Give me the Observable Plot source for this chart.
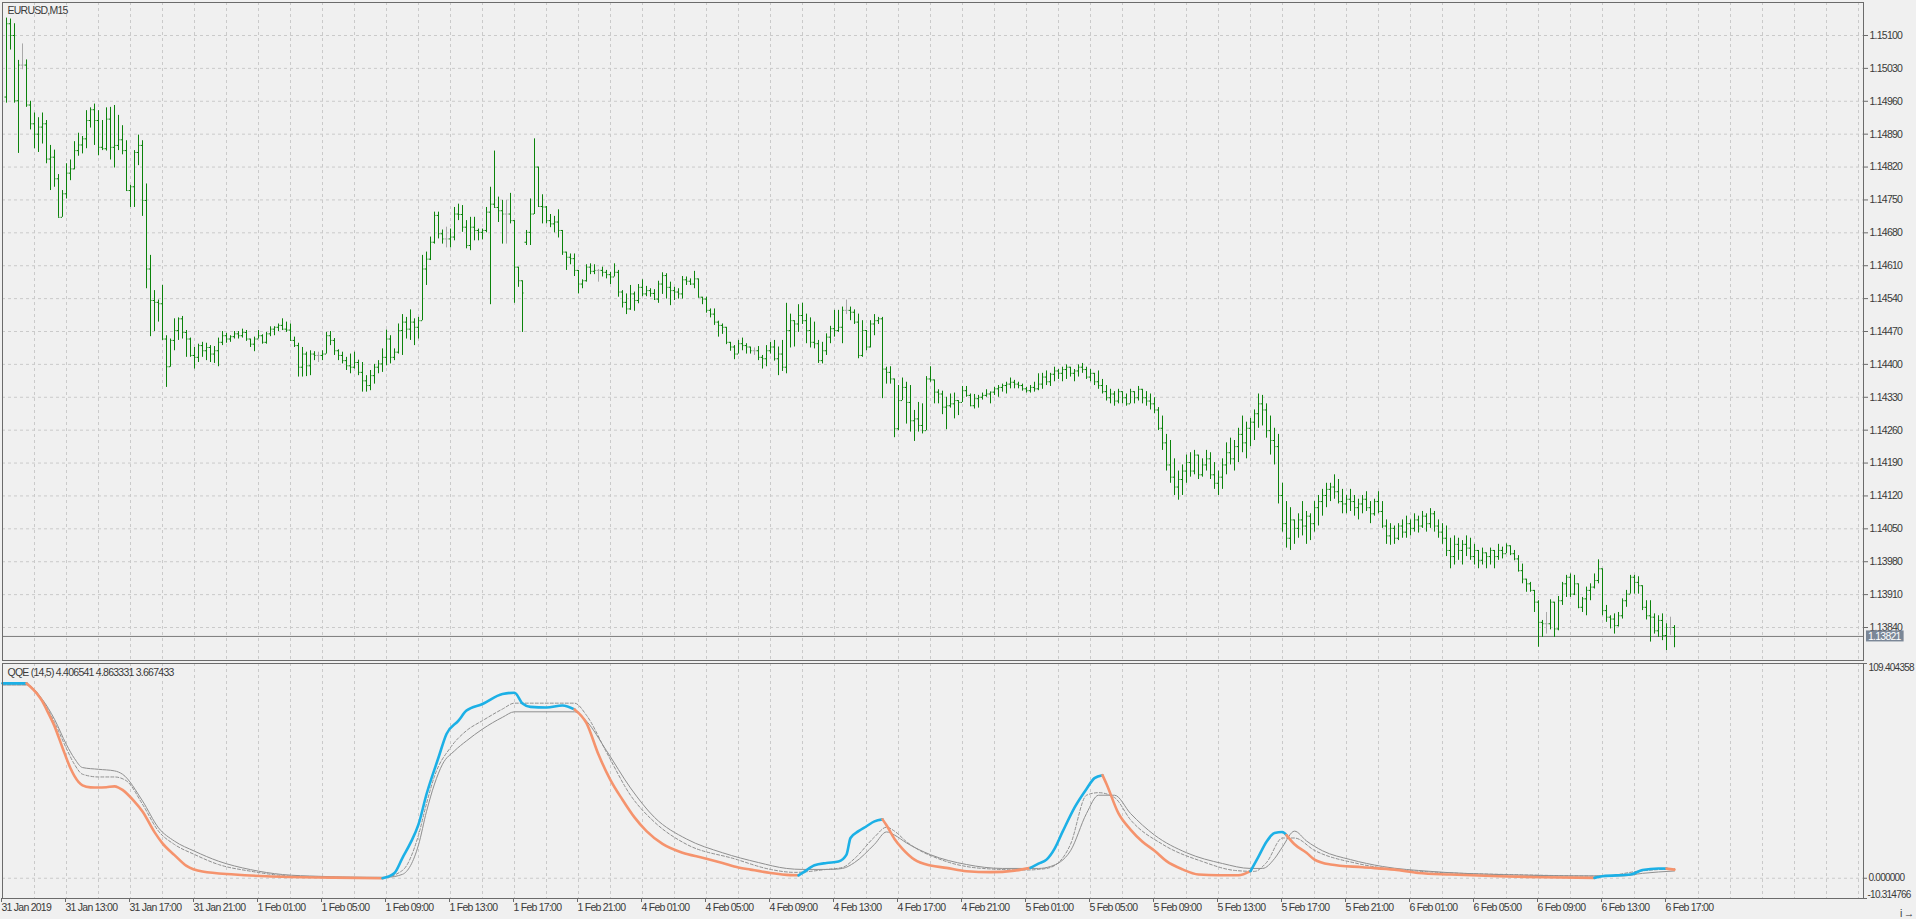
<!DOCTYPE html>
<html><head><meta charset="utf-8">
<script src="https://cdn.jsdelivr.net/npm/d3@7"></script>
<script src="https://cdn.jsdelivr.net/npm/@observablehq/plot@0.6"></script>
<style>
html,body{margin:0;padding:0;background:#f0f0f0;}
#wrap{position:relative;width:1916px;height:919px;overflow:hidden;background:#f0f0f0;}
#top{position:absolute;left:0;top:0;}
#bot{position:absolute;left:0;top:662px;}
</style></head><body><div id="wrap"><div id="top"></div><div id="bot"></div></div>
<script>
const symbolTitle = "EURUSD,M15";
const qqeTitle = "QQE (14,5) 4.406541 4.863331 3.667433";
const lastPrice = 1.13821;
const firstBar = 1;
const priceTicks = [1.13840,1.13910,1.13980,1.14050,1.14120,1.14190,1.14260,1.14330,1.14400,1.14470,1.14540,1.14610,1.14680,1.14750,1.14820,1.14890,1.14960,1.15030,1.15100];
const qqeTicks = [109.404358, 0, -10.314766];
const timeLabels = ["31 Jan 2019","31 Jan 13:00","31 Jan 17:00","31 Jan 21:00","1 Feb 01:00","1 Feb 05:00","1 Feb 09:00","1 Feb 13:00","1 Feb 17:00","1 Feb 21:00","4 Feb 01:00","4 Feb 05:00","4 Feb 09:00","4 Feb 13:00","4 Feb 17:00","4 Feb 21:00","5 Feb 01:00","5 Feb 05:00","5 Feb 09:00","5 Feb 13:00","5 Feb 17:00","5 Feb 21:00","6 Feb 01:00","6 Feb 05:00","6 Feb 09:00","6 Feb 13:00","6 Feb 17:00"];

const open = [1.14969,1.15125,1.15100,1.14961,1.15037,1.15037,1.14952,1.14912,1.14890,1.14905,
1.14912,1.14837,1.14841,1.14795,1.14713,1.14763,1.14807,1.14816,1.14855,1.14867,
1.14880,1.14919,1.14942,1.14919,1.14862,1.14859,1.14922,1.14862,1.14866,1.14878,
1.14855,1.14770,1.14778,1.14851,1.14866,1.14749,1.14603,1.14536,1.14532,1.14529,
1.14454,1.14395,1.14451,1.14472,1.14497,1.14468,1.14454,1.14419,1.14415,1.14440,
1.14429,1.14436,1.14422,1.14429,1.14447,1.14461,1.14454,1.14459,1.14465,1.14461,
1.14468,1.14454,1.14443,1.14454,1.14461,1.14447,1.14465,1.14475,1.14479,1.14483,
1.14475,1.14473,1.14451,1.14440,1.14394,1.14422,1.14397,1.14422,1.14419,1.14419,
1.14422,1.14461,1.14451,1.14429,1.14419,1.14408,1.14397,1.14394,1.14404,1.14383,
1.14365,1.14355,1.14376,1.14394,1.14401,1.14415,1.14454,1.14415,1.14426,1.14472,
1.14490,1.14475,1.14490,1.14479,1.14493,1.14603,1.14624,1.14660,1.14717,1.14678,
1.14667,1.14667,1.14671,1.14720,1.14719,1.14692,1.14653,1.14692,1.14685,1.14681,
1.14685,1.14724,1.14741,1.14734,1.14727,1.14720,1.14720,1.14706,1.14607,1.14578,
1.14660,1.14681,1.14720,1.14820,1.14736,1.14735,1.14706,1.14699,1.14703,1.14685,
1.14639,1.14628,1.14625,1.14600,1.14571,1.14578,1.14607,1.14598,1.14600,1.14600,
1.14596,1.14591,1.14586,1.14596,1.14554,1.14532,1.14518,1.14550,1.14536,1.14564,
1.14550,1.14557,1.14551,1.14539,1.14571,1.14589,1.14564,1.14557,1.14554,1.14550,
1.14580,1.14577,1.14571,1.14582,1.14543,1.14539,1.14515,1.14507,1.14490,1.14483,
1.14479,1.14447,1.14437,1.14422,1.14444,1.14440,1.14437,1.14429,1.14429,1.14415,
1.14412,1.14429,1.14437,1.14412,1.14422,1.14394,1.14472,1.14493,1.14486,1.14504,
1.14493,1.14472,1.14447,1.14444,1.14408,1.14429,1.14458,1.14476,1.14472,1.14479,
1.14515,1.14515,1.14511,1.14490,1.14419,1.14472,1.14437,1.14486,1.14493,1.14497,
1.14390,1.14383,1.14369,1.14263,1.14323,1.14351,1.14319,1.14280,1.14284,1.14270,
1.14259,1.14369,1.14367,1.14341,1.14337,1.14309,1.14312,1.14316,1.14323,1.14319,
1.14344,1.14334,1.14312,1.14327,1.14330,1.14334,1.14337,1.14341,1.14348,1.14351,
1.14355,1.14358,1.14362,1.14358,1.14355,1.14348,1.14344,1.14351,1.14348,
1.14358,1.14373,1.14363,1.14379,1.14386,1.14381,1.14389,1.14394,1.14381,1.14386,
1.14394,1.14389,1.14373,1.14381,1.14363,1.14355,1.14342,1.14329,1.14337,1.14322,
1.14342,1.14329,1.14316,1.14342,1.14329,1.14347,1.14329,1.14322,1.14316,1.14303,
1.14264,1.14233,1.14186,1.14160,1.14139,1.14155,1.14173,1.14191,1.14173,1.14207,
1.14165,1.14186,1.14199,1.14165,1.14147,1.14160,1.14186,1.14212,1.14199,1.14225,
1.14251,1.14233,1.14264,1.14277,1.14295,1.14316,1.14303,1.14259,1.14238,1.14225,
1.14121,1.14061,1.14030,1.14069,1.14051,1.14069,1.14056,1.14077,1.14061,1.14095,
1.14108,1.14121,1.14134,1.14139,1.14129,1.14108,1.14103,1.14113,1.14108,1.14095,
1.14103,1.14113,1.14095,1.14082,1.14108,1.14087,1.14056,1.14035,1.14051,1.14030,
1.14056,1.14043,1.14061,1.14051,1.14069,1.14056,1.14077,1.14061,1.14082,1.14056,
1.14043,1.14030,1.14004,1.13991,1.14017,1.14004,1.14017,1.14009,1.13991,1.14004,
1.13983,1.13999,1.13991,1.14004,1.13991,1.14004,1.13997,1.14014,1.13997,1.13986,
1.13961,1.13943,1.13933,1.13919,1.13894,1.13851,1.13848,1.13848,1.13894,1.13837,
1.13897,1.13933,1.13947,1.13911,1.13933,1.13883,1.13901,1.13919,1.13926,1.13940,
1.13965,1.13876,1.13862,1.13858,1.13844,1.13865,1.13897,1.13911,1.13947,1.13936,
1.13929,1.13883,1.13865,1.13862,1.13833,1.13855,1.13823,1.13840,1.13840];
const high = [1.15137,1.15135,1.15125,1.15047,1.15082,1.15048,1.14960,1.14935,1.14925,1.14935,
1.14919,1.14866,1.14856,1.14804,1.14770,1.14827,1.14835,1.14874,1.14892,1.14885,
1.14940,1.14946,1.14954,1.14940,1.14919,1.14946,1.14947,1.14951,1.14930,1.14908,
1.14876,1.14781,1.14855,1.14888,1.14876,1.14784,1.14632,1.14557,1.14537,1.14568,
1.14461,1.14454,1.14497,1.14499,1.14502,1.14472,1.14456,1.14436,1.14443,1.14447,
1.14445,1.14440,1.14438,1.14456,1.14470,1.14466,1.14461,1.14470,1.14470,1.14475,
1.14472,1.14454,1.14458,1.14472,1.14463,1.14468,1.14480,1.14480,1.14486,1.14497,
1.14490,1.14486,1.14458,1.14445,1.14436,1.14426,1.14429,1.14427,1.14426,1.14429,
1.14468,1.14470,1.14455,1.14431,1.14426,1.14415,1.14422,1.14426,1.14409,1.14404,
1.14376,1.14387,1.14400,1.14408,1.14433,1.14473,1.14461,1.14433,1.14486,1.14506,
1.14500,1.14516,1.14497,1.14500,1.14632,1.14639,1.14671,1.14724,1.14724,1.14686,
1.14692,1.14688,1.14734,1.14741,1.14738,1.14706,1.14713,1.14713,1.14688,1.14688,
1.14734,1.14777,1.14854,1.14756,1.14749,1.14749,1.14764,1.14706,1.14607,1.14578,
1.14685,1.14752,1.14880,1.14820,1.14761,1.14736,1.14719,1.14715,1.14729,1.14685,
1.14639,1.14635,1.14635,1.14600,1.14580,1.14612,1.14614,1.14612,1.14602,1.14607,
1.14600,1.14596,1.14614,1.14600,1.14557,1.14550,1.14568,1.14554,1.14570,1.14580,
1.14566,1.14561,1.14559,1.14577,1.14595,1.14593,1.14575,1.14564,1.14561,1.14587,
1.14586,1.14582,1.14598,1.14582,1.14543,1.14543,1.14518,1.14518,1.14492,1.14486,
1.14479,1.14447,1.14440,1.14451,1.14456,1.14444,1.14437,1.14435,1.14438,1.14419,
1.14440,1.14447,1.14451,1.14437,1.14451,1.14530,1.14507,1.14493,1.14527,1.14530,
1.14507,1.14499,1.14490,1.14451,1.14447,1.14465,1.14481,1.14515,1.14515,1.14522,
1.14537,1.14522,1.14516,1.14507,1.14493,1.14472,1.14493,1.14506,1.14500,1.14500,
1.14394,1.14395,1.14369,1.14355,1.14371,1.14362,1.14355,1.14302,1.14319,1.14316,
1.14374,1.14395,1.14367,1.14346,1.14343,1.14330,1.14337,1.14339,1.14323,1.14353,
1.14353,1.14337,1.14336,1.14334,1.14339,1.14346,1.14341,1.14351,1.14355,1.14358,
1.14362,1.14371,1.14366,1.14362,1.14358,1.14351,1.14355,1.14362,1.14380,
1.14381,1.14386,1.14381,1.14394,1.14389,1.14394,1.14399,1.14394,1.14389,1.14399,
1.14402,1.14394,1.14389,1.14381,1.14386,1.14368,1.14355,1.14347,1.14342,1.14347,
1.14342,1.14337,1.14347,1.14342,1.14353,1.14347,1.14342,1.14337,1.14329,1.14308,
1.14290,1.14251,1.14238,1.14199,1.14173,1.14186,1.14207,1.14212,1.14217,1.14207,
1.14199,1.14217,1.14212,1.14191,1.14173,1.14199,1.14233,1.14243,1.14238,1.14264,
1.14290,1.14277,1.14285,1.14303,1.14337,1.14334,1.14316,1.14290,1.14264,1.14251,
1.14147,1.14108,1.14095,1.14069,1.14082,1.14108,1.14087,1.14082,1.14108,1.14121,
1.14134,1.14147,1.14147,1.14165,1.14155,1.14134,1.14121,1.14134,1.14121,1.14113,
1.14121,1.14129,1.14108,1.14113,1.14129,1.14108,1.14069,1.14061,1.14056,1.14061,
1.14069,1.14077,1.14069,1.14082,1.14077,1.14087,1.14082,1.14093,1.14087,1.14069,
1.14061,1.14056,1.14030,1.14035,1.14030,1.14025,1.14035,1.14030,1.14017,1.14004,
1.14009,1.13999,1.14009,1.14004,1.14017,1.14011,1.14018,1.14014,1.14004,1.13993,
1.13975,1.13943,1.13936,1.13919,1.13897,1.13855,1.13872,1.13899,1.13894,1.13906,
1.13936,1.13951,1.13954,1.13951,1.13933,1.13904,1.13926,1.13933,1.13954,1.13984,
1.13965,1.13887,1.13865,1.13869,1.13872,1.13901,1.13919,1.13951,1.13951,1.13948,
1.13929,1.13897,1.13897,1.13869,1.13865,1.13869,1.13848,1.13862,1.13844];
const low = [1.14956,1.15069,1.14956,1.14849,1.15027,1.14947,1.14899,1.14859,1.14851,1.14869,
1.14827,1.14770,1.14777,1.14713,1.14713,1.14752,1.14791,1.14814,1.14843,1.14848,
1.14859,1.14903,1.14866,1.14844,1.14855,1.14854,1.14835,1.14818,1.14855,1.14846,
1.14768,1.14734,1.14734,1.14823,1.14715,1.14561,1.14459,1.14470,1.14490,1.14451,
1.14351,1.14394,1.14429,1.14451,1.14454,1.14415,1.14415,1.14390,1.14404,1.14415,
1.14408,1.14404,1.14402,1.14395,1.14440,1.14445,1.14447,1.14454,1.14454,1.14456,
1.14449,1.14436,1.14427,1.14454,1.14443,1.14443,1.14459,1.14461,1.14470,1.14472,
1.14468,1.14449,1.14436,1.14373,1.14373,1.14374,1.14376,1.14408,1.14404,1.14408,
1.14422,1.14440,1.14419,1.14408,1.14401,1.14387,1.14380,1.14390,1.14376,1.14341,
1.14341,1.14344,1.14358,1.14380,1.14383,1.14397,1.14401,1.14408,1.14422,1.14419,
1.14454,1.14451,1.14440,1.14454,1.14493,1.14568,1.14621,1.14656,1.14667,1.14656,
1.14648,1.14648,1.14663,1.14706,1.14681,1.14646,1.14642,1.14663,1.14663,1.14665,
1.14680,1.14527,1.14734,1.14702,1.14656,1.14656,1.14699,1.14530,1.14564,1.14468,
1.14653,1.14653,1.14719,1.14735,1.14699,1.14699,1.14691,1.14680,1.14669,1.14632,
1.14600,1.14612,1.14587,1.14550,1.14561,1.14575,1.14591,1.14591,1.14575,1.14586,
1.14582,1.14570,1.14586,1.14543,1.14520,1.14506,1.14515,1.14513,1.14529,1.14544,
1.14544,1.14543,1.14536,1.14530,1.14549,1.14539,1.14525,1.14536,1.14539,1.14539,
1.14568,1.14568,1.14561,1.14542,1.14527,1.14509,1.14499,1.14483,1.14458,1.14464,
1.14442,1.14428,1.14410,1.14422,1.14429,1.14422,1.14422,1.14419,1.14408,1.14390,
1.14395,1.14422,1.14407,1.14376,1.14385,1.14380,1.14435,1.14437,1.14468,1.14485,
1.14444,1.14435,1.14433,1.14402,1.14401,1.14419,1.14444,1.14458,1.14468,1.14444,
1.14506,1.14493,1.14485,1.14412,1.14415,1.14429,1.14435,1.14461,1.14485,1.14327,
1.14358,1.14358,1.14244,1.14259,1.14323,1.14273,1.14256,1.14236,1.14256,1.14252,
1.14259,1.14362,1.14316,1.14316,1.14293,1.14261,1.14307,1.14284,1.14291,1.14319,
1.14330,1.14310,1.14305,1.14307,1.14324,1.14330,1.14316,1.14334,1.14330,1.14341,
1.14337,1.14348,1.14348,1.14348,1.14343,1.14339,1.14339,1.14341,1.14344,
1.14347,1.14355,1.14353,1.14363,1.14368,1.14363,1.14368,1.14373,1.14363,1.14373,
1.14381,1.14368,1.14363,1.14355,1.14347,1.14337,1.14322,1.14316,1.14311,1.14316,
1.14316,1.14311,1.14316,1.14316,1.14322,1.14316,1.14311,1.14303,1.14295,1.14259,
1.14217,1.14173,1.14147,1.14121,1.14111,1.14121,1.14147,1.14160,1.14165,1.14155,
1.14160,1.14173,1.14155,1.14134,1.14121,1.14134,1.14165,1.14186,1.14173,1.14191,
1.14212,1.14199,1.14225,1.14238,1.14264,1.14269,1.14243,1.14207,1.14186,1.14103,
1.14043,1.14009,1.14004,1.14017,1.14030,1.14035,1.14017,1.14025,1.14043,1.14056,
1.14077,1.14095,1.14108,1.14113,1.14103,1.14082,1.14082,1.14087,1.14077,1.14069,
1.14082,1.14087,1.14061,1.14077,1.14082,1.14051,1.14017,1.14015,1.14017,1.14025,
1.14030,1.14030,1.14035,1.14043,1.14041,1.14051,1.14043,1.14051,1.14043,1.14030,
1.14017,1.13991,1.13965,1.13973,1.13983,1.13973,1.13991,1.13983,1.13973,1.13965,
1.13973,1.13965,1.13973,1.13965,1.13983,1.13986,1.13997,1.13993,1.13982,1.13958,
1.13933,1.13915,1.13915,1.13872,1.13798,1.13819,1.13826,1.13835,1.13819,1.13833,
1.13887,1.13904,1.13904,1.13908,1.13880,1.13872,1.13865,1.13897,1.13922,1.13933,
1.13865,1.13851,1.13837,1.13826,1.13841,1.13858,1.13883,1.13911,1.13911,1.13911,
1.13876,1.13856,1.13809,1.13826,1.13819,1.13812,1.13791,1.13823,1.13797];
const close = [1.15125,1.15100,1.14961,1.15037,1.15037,1.14952,1.14912,1.14890,1.14905,1.14912,
1.14837,1.14841,1.14795,1.14713,1.14763,1.14807,1.14816,1.14855,1.14867,1.14880,
1.14919,1.14942,1.14919,1.14862,1.14859,1.14922,1.14862,1.14866,1.14878,1.14855,
1.14770,1.14778,1.14851,1.14866,1.14749,1.14603,1.14536,1.14532,1.14529,1.14454,
1.14395,1.14451,1.14472,1.14497,1.14468,1.14454,1.14419,1.14415,1.14440,1.14429,
1.14436,1.14422,1.14429,1.14447,1.14461,1.14454,1.14459,1.14465,1.14461,1.14468,
1.14454,1.14443,1.14454,1.14461,1.14447,1.14465,1.14475,1.14479,1.14483,1.14475,
1.14473,1.14451,1.14440,1.14394,1.14422,1.14397,1.14422,1.14419,1.14419,1.14422,
1.14461,1.14451,1.14429,1.14419,1.14408,1.14397,1.14394,1.14404,1.14383,1.14365,
1.14355,1.14376,1.14394,1.14401,1.14415,1.14454,1.14415,1.14426,1.14472,1.14490,
1.14475,1.14490,1.14479,1.14493,1.14603,1.14624,1.14660,1.14717,1.14678,1.14667,
1.14667,1.14671,1.14720,1.14719,1.14692,1.14653,1.14692,1.14685,1.14681,1.14685,
1.14724,1.14741,1.14734,1.14727,1.14720,1.14720,1.14706,1.14607,1.14578,1.14552,
1.14681,1.14720,1.14820,1.14736,1.14735,1.14706,1.14699,1.14703,1.14685,1.14639,
1.14628,1.14625,1.14600,1.14571,1.14578,1.14607,1.14598,1.14600,1.14600,1.14596,
1.14591,1.14586,1.14596,1.14554,1.14532,1.14518,1.14550,1.14536,1.14564,1.14550,
1.14557,1.14551,1.14539,1.14571,1.14589,1.14564,1.14557,1.14554,1.14550,1.14580,
1.14577,1.14571,1.14582,1.14543,1.14539,1.14515,1.14507,1.14490,1.14483,1.14479,
1.14447,1.14437,1.14422,1.14444,1.14440,1.14437,1.14429,1.14429,1.14415,1.14412,
1.14429,1.14437,1.14412,1.14422,1.14394,1.14472,1.14493,1.14486,1.14504,1.14493,
1.14472,1.14447,1.14444,1.14408,1.14429,1.14458,1.14476,1.14472,1.14479,1.14515,
1.14515,1.14511,1.14490,1.14419,1.14472,1.14437,1.14486,1.14493,1.14497,1.14390,
1.14383,1.14369,1.14263,1.14323,1.14351,1.14319,1.14280,1.14284,1.14270,1.14259,
1.14369,1.14367,1.14341,1.14337,1.14309,1.14312,1.14316,1.14323,1.14319,1.14344,
1.14334,1.14312,1.14327,1.14330,1.14334,1.14337,1.14341,1.14348,1.14351,1.14355,
1.14358,1.14362,1.14358,1.14355,1.14348,1.14344,1.14351,1.14348,1.14358,
1.14373,1.14363,1.14379,1.14386,1.14381,1.14389,1.14394,1.14381,1.14386,1.14394,
1.14389,1.14373,1.14381,1.14363,1.14355,1.14342,1.14329,1.14337,1.14322,1.14342,
1.14329,1.14316,1.14342,1.14329,1.14347,1.14329,1.14322,1.14316,1.14303,1.14264,
1.14233,1.14186,1.14160,1.14139,1.14155,1.14173,1.14191,1.14173,1.14207,1.14165,
1.14186,1.14199,1.14165,1.14147,1.14160,1.14186,1.14212,1.14199,1.14225,1.14251,
1.14233,1.14264,1.14277,1.14295,1.14316,1.14303,1.14259,1.14238,1.14225,1.14121,
1.14061,1.14030,1.14069,1.14051,1.14069,1.14056,1.14077,1.14061,1.14095,1.14108,
1.14121,1.14134,1.14139,1.14129,1.14108,1.14103,1.14113,1.14108,1.14095,1.14103,
1.14113,1.14095,1.14082,1.14108,1.14087,1.14056,1.14035,1.14051,1.14030,1.14056,
1.14043,1.14061,1.14051,1.14069,1.14056,1.14077,1.14061,1.14082,1.14056,1.14043,
1.14030,1.14004,1.13991,1.14017,1.14004,1.14017,1.14009,1.13991,1.14004,1.13983,
1.13999,1.13991,1.14004,1.13991,1.14004,1.13997,1.14014,1.13997,1.13986,1.13961,
1.13943,1.13933,1.13919,1.13894,1.13851,1.13848,1.13848,1.13894,1.13837,1.13897,
1.13933,1.13947,1.13911,1.13933,1.13883,1.13901,1.13919,1.13926,1.13940,1.13965,
1.13876,1.13862,1.13858,1.13844,1.13865,1.13897,1.13911,1.13947,1.13936,1.13929,
1.13883,1.13865,1.13862,1.13833,1.13855,1.13823,1.13840,1.13840,1.13821];

// QQE main line (bar index, value); colour switches at trendStarts
const qqeIdx  = [0,6,9,10,11,13,15,17,18,20,22,24,26,28,29,30,33,35,38,40,43,46,50,58,66,83,95,98,100,102,104,106,109,111,114,116,120,125,128,130,132,136,140,143,146,149,152,155,158,161,165,170,175,180,184,187,192,197,199,200,203,206,209,211,212,214,216,218,220,221,223,225,228,232,236,241,247,253,257,259,261,263,265,268,271,273,275,276,279,282,285,288,291,295,299,304,309,312,314,316,318,320,321,323,326,328,332,340,348,354,362,374,385,398,400,407,410,414,416,418];
const qqeMain = [99.3,99.3,93,90,86,77.5,66.5,56,52,47.3,46.3,46.2,46.4,46.8,46.2,45,39,34,23.5,17.8,11.8,6.3,3.4,1.9,1,0.3,0,2.7,10.4,18,27.4,42.8,61.5,73.5,80.3,85.4,88.8,93.9,94.5,89,87.3,87,88,86,79,63,50,40,31,24,17.5,13,10.5,7.8,5.5,4.4,2.7,1.6,1.5,2.7,6.6,7.8,8.5,12,20.5,24,26.5,29,30,27,20,15,9.5,6.5,5.3,3.6,3.1,3.9,5.3,7.5,9.5,15,23.6,36,45.5,51,52.5,48,33,24.8,18.6,14,8.7,4.5,1.9,1.5,1.5,3.6,11,18.6,23,23.6,22,17.3,13,9.5,7,5.6,4.4,2.7,1.9,1,0.5,0.2,1,1.9,4.2,5,4.9,4.4];
const trendStarts = [0, 6, 95, 143, 199, 220, 257, 275, 312, 321, 398, 416];
const trendDirs   = [1, -1, 1, -1, 1, -1, 1, -1, 1, -1, 1, -1];
// slow trailing level (solid grey)
const slowIdx = [0,6,10,13,16,18,20,24,28,30,35,39,43,48,54,62,70,79,91,96,100,104,106,108,110,113,116,120,125,128,143,146,151,157,163,171,180,189,196,200,207,210,213,218,221,223,226,232,241,250,256,259,262,267,271,274,278,282,288,296,305,312,315,318,320,323,326,330,337,345,357,372,397,405,410,418];
const slowVal = [98.5,98.5,91,81,68,61,56.4,55.5,54.7,53,39.4,25.7,18.9,13.8,8.7,4.4,1.9,1,0.5,0.5,2,17,34,48,58.1,64.9,70,76,82,84.8,84.8,80,65,46,31,20,13,8,5,4.5,4.5,5,8,17.3,23.6,22,18,12,7,5,5,5,6,14,33,42.3,42.3,33,22,13,7.5,5,5,10,16,24,19,14,9.5,6,3.5,2,1.2,1.2,2.5,3.7];
// fast trailing level (dashed grey)
const fastIdx = [0,6,10,13,16,18,20,24,28,31,35,39,43,48,54,62,70,80,95,100,104,106,108,112,116,120,125,128,143,146,151,157,163,171,183,192,198,206,210,213,218,221,223,226,235,245,256,259,262,267,271,274,278,282,290,300,308,313,316,320,323,328,339,354,381,400,409,418];
const fastVal = [98.6,98.6,90.5,79.5,66,58,53,51.6,51.6,49.6,37.7,24,17.2,12.1,7,3.6,1.4,0.6,0.3,4,22,38,52,66.6,75.2,80.3,86.2,89.2,89.2,83,64.2,42.3,28.6,17.3,9.9,4.5,3,4.5,5.5,10,21,26,24,18.6,9.2,5,4.2,4.5,5.5,17.3,42.3,43.6,41.1,29.8,17.3,8.5,4,3.5,8,20.5,20.5,14.2,7.4,3.6,1.7,1.1,3.6,4.9];

const FONT = '"Liberation Sans", Arial, sans-serif';
const W = 1916;
const GREEN = "#0b830b", DOJI = "#a9a9a9", FRAME = "#6b6b6b", GRID = "#cacaca", TXT = "#3a3a3a";
const UP = "#1cb0e6", DOWN = "#f5936d", LEVEL = "#8f8f8f";
const xDomain = [0, 465.25];
const gridBars = d3.range(0, 466, 8);
const labelBars = timeLabels.map((_, k) => k * 16);
const baseStyle = {background: "#f0f0f0", fontFamily: FONT, fontSize: "10.5px", letterSpacing: "-0.75px", color: TXT, overflow: "visible"};

const bars = open.map((o, k) => ({i: firstBar + k, o, h: high[k], l: low[k], c: close[k]}));
const barColor = d => d.o === d.c ? DOJI : GREEN;

const topPlot = Plot.plot({
  width: W, height: 662,
  marginLeft: 2, marginRight: 53, marginTop: 2, marginBottom: 2,
  style: baseStyle,
  x: {domain: xDomain, axis: null},
  y: {domain: [1.137698, 1.151702], axis: null},
  marks: [
    Plot.gridX(gridBars, {stroke: GRID, strokeOpacity: 1, strokeDasharray: "3,3"}),
    Plot.gridY(priceTicks, {stroke: GRID, strokeOpacity: 1, strokeDasharray: "3,3"}),
    Plot.ruleY([lastPrice], {stroke: "#7c7c7c"}),
    Plot.ruleX(bars, {x: "i", y1: "l", y2: "h", stroke: barColor}),
    Plot.ruleY(bars, {y: "o", x1: d => d.i - 0.375, x2: "i", stroke: barColor}),
    Plot.ruleY(bars, {y: "c", x1: "i", x2: d => d.i + 0.375, stroke: barColor}),
    Plot.frame({stroke: FRAME}),
    Plot.axisY(priceTicks, {anchor: "right", tickSize: 4, tickPadding: 2, tickFormat: d3.format(".5f"), stroke: FRAME, fill: TXT}),
    Plot.text([symbolTitle], {frameAnchor: "top-left", text: d => d, dx: 5, dy: 4, fill: TXT})
  ]
});
document.getElementById("top").appendChild(topPlot);
{
  const ys = topPlot.scale("y"), xs = topPlot.scale("x");
  const yy = ys.apply(lastPrice), x0 = xs.range[1] + 3;
  const s = d3.select(topPlot);
  const rect = s.append("rect").attr("x", x0).attr("y", yy - 5.5).attr("height", 11).attr("fill", "#7b8797");
  const txt = s.append("text").attr("x", x0 + 2).attr("y", yy + 0.5).attr("dy", "0.35em")
    .attr("text-anchor", "start").attr("fill", "#ffffff").text(d3.format(".5f")(lastPrice));
  rect.attr("width", txt.node().getBBox().width + 4);
}

const trendAt = i => {
  let t = trendDirs[0];
  trendStarts.forEach((s, k) => { if (i >= s) t = trendDirs[k]; });
  return t;
};
const mainPts = [];
{
  let seg = -1, prevT = null;
  qqeIdx.forEach((i, k) => {
    const t = trendAt(i);
    if (t !== prevT) {
      if (k > 0) mainPts.push({i, v: qqeMain[k], t: prevT, seg});
      seg++; prevT = t;
    }
    mainPts.push({i, v: qqeMain[k], t, seg});
  });
}
const slowPts = slowIdx.map((i, k) => ({i, v: slowVal[k]}));
const fastPts = fastIdx.map((i, k) => ({i, v: fastVal[k]}));
const tickLen = 1; // one bar slot beyond the frame

const botPlot = Plot.plot({
  width: W, height: 257,
  marginLeft: 2, marginRight: 53, marginTop: 1, marginBottom: 21,
  style: baseStyle,
  x: {domain: xDomain, axis: null},
  y: {domain: [-10.314766, 109.404358], axis: null},
  marks: [
    Plot.gridX(gridBars, {stroke: GRID, strokeOpacity: 1, strokeDasharray: "3,3"}),
    Plot.gridY([0], {stroke: GRID, strokeOpacity: 1, strokeDasharray: "3,3"}),
    Plot.line(slowPts, {x: "i", y: "v", stroke: LEVEL, strokeWidth: 1, curve: "monotone-x"}),
    Plot.line(fastPts, {x: "i", y: "v", stroke: LEVEL, strokeWidth: 1, strokeDasharray: "3,2", curve: "monotone-x"}),
    Plot.line(mainPts, {x: "i", y: "v", z: "seg", stroke: d => d.t > 0 ? UP : DOWN, strokeWidth: 2.6, curve: "monotone-x"}),
    Plot.frame({stroke: FRAME}),
    Plot.ruleY(qqeTicks, {x1: xDomain[1], x2: xDomain[1] + tickLen, stroke: FRAME}),
    Plot.text([qqeTicks[0]], {y: d => d, frameAnchor: "right", dx: 5, dy: 4, textAnchor: "start", text: d => d.toFixed(6), fill: TXT, fontSize: 10}),
    Plot.text([qqeTicks[1]], {y: d => d, frameAnchor: "right", dx: 5, textAnchor: "start", text: d => d.toFixed(6), fill: TXT, fontSize: 10}),
    Plot.text([qqeTicks[2]], {y: d => d, frameAnchor: "right", dx: 4, dy: -4, textAnchor: "start", text: d => d.toFixed(6), fill: TXT, fontSize: 10}),
    Plot.axisX(labelBars, {anchor: "bottom", tickSize: 4, tickPadding: 1, tickFormat: (d, k) => timeLabels[k], textAnchor: "start", dx: -1, stroke: FRAME, fill: TXT}),
    Plot.text([qqeTitle], {frameAnchor: "top-left", text: d => d, dx: 5, dy: 5, fill: TXT})
  ]
});
document.getElementById("bot").appendChild(botPlot);
</script>
</body></html>
